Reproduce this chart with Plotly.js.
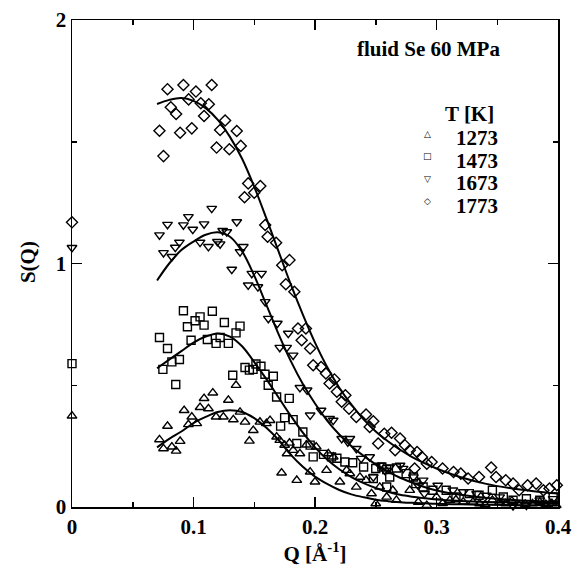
<!DOCTYPE html>
<html>
<head>
<meta charset="utf-8">
<script src="https://cdn.plot.ly/plotly-3.0.1.min.js"></script>
<style>html,body{margin:0;padding:0;background:#fff;}</style>
</head>
<body>
<div id="chart" style="width:573px;height:566px;"></div>
<script>
// ---- data ----
const qAxis0 = [0, 0, 0, 0];
const sAxis0 = [0.374, 0.589, 1.065, 1.169];

// T = 1273 K (up triangles)
const q1273 = [0.072,0.0753,0.0822,0.0857,0.0786,0.089,0.0923,0.0986,0.0958,0.1027,0.1054,0.1087,0.1123,0.1159,0.1186,0.1246,0.1287,0.1328,0.135,0.1383,0.1424,0.146,0.1492,0.1547,0.160,0.163,0.1684,0.171,0.1725,0.175,0.177,0.179,0.182,0.185,0.1876,0.193,0.196,0.200,0.201,0.2095,0.211,0.215,0.2205,0.226,0.2287,0.234,0.237,0.242,0.2465,0.25,0.2533,0.259,0.264,0.267,0.278,0.285,0.292,0.30,0.305,0.311,0.316,0.322,0.33,0.3355,0.34,0.346,0.352,0.357,0.362,0.368,0.373,0.379,0.385,0.390,0.395,0.3985];
const s1273 = [0.277,0.240,0.247,0.230,0.332,0.270,0.397,0.370,0.339,0.343,0.409,0.446,0.404,0.469,0.370,0.370,0.439,0.359,0.500,0.390,0.349,0.271,0.315,0.349,0.343,0.356,0.288,0.274,0.140,0.254,0.219,0.263,0.233,0.110,0.219,0.255,0.144,0.103,0.247,0.151,0.219,0.206,0.103,0.151,0.137,0.082,0.123,0.110,0.055,0.014,0.082,0.041,0.069,0.028,0.069,0.020,0.007,0.041,0.015,0.028,0.030,0.021,0.020,0.014,0.010,0.028,0.020,0.014,0.025,0.007,0.012,0.014,0.020,0.011,0.015,0.007];

// T = 1473 K (squares)
const q1473 = [0.0917,0.1054,0.1013,0.095,0.1087,0.1155,0.1254,0.1383,0.135,0.072,0.0786,0.098,0.1114,0.1186,0.1219,0.1287,0.0822,0.0884,0.0748,0.0854,0.1323,0.1424,0.146,0.1514,0.1555,0.149,0.1588,0.1657,0.1615,0.1684,0.1788,0.175,0.182,0.1717,0.185,0.190,0.196,0.1985,0.207,0.2136,0.218,0.2246,0.231,0.240,0.248,0.25,0.255,0.259,0.2615,0.267,0.259,0.275,0.281,0.283,0.289,0.297,0.308,0.316,0.327,0.335,0.346,0.355,0.363,0.374,0.385,0.396];
const s1473 = [0.806,0.781,0.765,0.740,0.747,0.804,0.758,0.743,0.715,0.696,0.651,0.685,0.688,0.672,0.696,0.672,0.596,0.606,0.565,0.503,0.541,0.573,0.562,0.587,0.578,0.565,0.545,0.537,0.500,0.452,0.446,0.367,0.359,0.332,0.261,0.308,0.254,0.206,0.216,0.206,0.200,0.185,0.182,0.164,0.117,0.158,0.164,0.154,0.123,0.160,0.082,0.137,0.123,0.096,0.082,0.069,0.069,0.041,0.055,0.048,0.069,0.041,0.028,0.034,0.028,0.041];

// T = 1673 K (down triangles)
const q1673 = [0.115,0.0958,0.0786,0.0917,0.1087,0.0994,0.072,0.1356,0.1274,0.124,0.0884,0.085,0.0753,0.0822,0.1054,0.1123,0.1219,0.1197,0.141,0.1383,0.1315,0.148,0.156,0.145,0.153,0.159,0.1616,0.169,0.178,0.171,0.1767,0.182,0.1876,0.1935,0.196,0.205,0.212,0.215,0.222,0.2287,0.227,0.234,0.238,0.245,0.248,0.2533,0.2575,0.2615,0.270,0.2725,0.281,0.285,0.289,0.290,0.301,0.3135,0.322,0.333,0.341,0.352,0.363,0.374,0.385,0.396];
const s1673 = [1.226,1.192,1.160,1.158,1.162,1.140,1.117,1.171,1.130,1.135,1.087,1.066,1.044,1.028,1.087,1.069,1.080,1.090,1.069,1.048,0.976,0.959,0.959,0.911,0.904,0.843,0.774,0.754,0.713,0.655,0.655,0.623,0.490,0.480,0.377,0.397,0.363,0.356,0.281,0.281,0.267,0.240,0.199,0.206,0.123,0.171,0.151,0.164,0.171,0.158,0.123,0.089,0.110,0.055,0.089,0.069,0.062,0.055,0.048,0.041,0.005,0.007,0.028,0.034];

// T = 1773 K (diamonds)
const q1773 = [0.0786,0.0917,0.102,0.115,0.096,0.0813,0.0857,0.106,0.1126,0.1087,0.072,0.089,0.0986,0.0753,0.126,0.1219,0.1356,0.119,0.1295,0.1389,0.145,0.155,0.142,0.150,0.159,0.161,0.168,0.179,0.173,0.176,0.183,0.186,0.1925,0.189,0.196,0.1985,0.205,0.209,0.212,0.216,0.218,0.225,0.222,0.228,0.234,0.242,0.248,0.245,0.252,0.257,0.263,0.266,0.270,0.274,0.278,0.284,0.282,0.288,0.292,0.296,0.305,0.314,0.320,0.326,0.335,0.345,0.349,0.357,0.363,0.368,0.375,0.382,0.388,0.393,0.399];
const s1773 = [1.716,1.733,1.706,1.733,1.674,1.642,1.614,1.658,1.654,1.606,1.545,1.537,1.555,1.441,1.587,1.548,1.544,1.476,1.469,1.483,1.329,1.318,1.272,1.291,1.158,1.110,1.085,1.014,0.993,0.915,0.884,0.733,0.733,0.685,0.651,0.582,0.575,0.548,0.507,0.524,0.473,0.459,0.432,0.404,0.370,0.380,0.352,0.329,0.261,0.301,0.305,0.233,0.281,0.254,0.233,0.226,0.158,0.205,0.178,0.185,0.158,0.144,0.137,0.117,0.123,0.162,0.123,0.110,0.096,0.069,0.089,0.096,0.069,0.076,0.089];

// fitted curves
const qFit = [0.07,0.08,0.09,0.10,0.11,0.12,0.13,0.14,0.15,0.16,0.17,0.18,0.19,0.20,0.21,0.22,0.23,0.24,0.25,0.26,0.27,0.28,0.29,0.30,0.32,0.34,0.36,0.38,0.40];
const fit1273 = [0.245,0.28,0.31,0.345,0.37,0.39,0.397,0.39,0.365,0.325,0.275,0.215,0.165,0.125,0.095,0.07,0.052,0.04,0.03,0.024,0.02,0.017,0.015,0.013,0.011,0.009,0.008,0.0075,0.007];
const fit1473 = [0.57,0.605,0.64,0.675,0.70,0.713,0.70,0.66,0.595,0.525,0.45,0.375,0.305,0.245,0.195,0.155,0.123,0.098,0.078,0.062,0.05,0.042,0.036,0.031,0.025,0.021,0.019,0.017,0.015];
const fit1673 = [0.93,1.00,1.055,1.09,1.118,1.128,1.11,1.05,0.95,0.83,0.71,0.60,0.505,0.425,0.355,0.298,0.25,0.21,0.175,0.145,0.12,0.10,0.082,0.068,0.05,0.038,0.03,0.025,0.021];
const fit1773 = [1.655,1.672,1.68,1.668,1.638,1.59,1.52,1.43,1.315,1.185,1.05,0.915,0.79,0.675,0.575,0.49,0.42,0.36,0.31,0.27,0.235,0.205,0.18,0.158,0.122,0.096,0.078,0.065,0.055];

const legendTemps = ['1273','1473','1673','1773'];
const legendGlyphs = ['\u25B3','\u25A1','\u25BD','\u25C7'];

// ---- build ----
const serif = 'Liberation Serif, Times New Roman, serif';
const mk = (sym, size) => ({symbol: sym, size: size, color: 'black', line: {color: 'black', width: 1.4}});

const traces = [];
function addSeries(q, s, q0, s0, sym, size) {
  traces.push({x: q.concat([q0]), y: s.concat([s0]), type: 'scatter', mode: 'markers',
    marker: mk(sym, size), cliponaxis: false, showlegend: false, hoverinfo: 'skip'});
}
addSeries(q1273, s1273, qAxis0[0], sAxis0[0], 'triangle-up-open', 8.5);
addSeries(q1473, s1473, qAxis0[1], sAxis0[1], 'square-open', 8);
addSeries(q1673, s1673, qAxis0[2], sAxis0[2], 'triangle-down-open', 8.5);
addSeries(q1773, s1773, qAxis0[3], sAxis0[3], 'diamond-open', 8.5);

[fit1273, fit1473, fit1673, fit1773].forEach(f => {
  traces.push({x: qFit, y: f, type: 'scatter', mode: 'lines',
    line: {color: 'black', width: 2, shape: 'spline', smoothing: 1}, showlegend: false, hoverinfo: 'skip'});
});

const fontBold = (sz) => ({family: serif, size: sz, color: 'black', weight: 'bold'});

const annotations = [
  {text: 'fluid Se 60 MPa', xref: 'paper', yref: 'paper', x: 0.7335, y: 0.94, xanchor: 'center', yanchor: 'middle', showarrow: false, font: fontBold(21)},
  {text: 'T [K]', xref: 'paper', yref: 'paper', x: 0.817, y: 0.806, xanchor: 'center', yanchor: 'middle', showarrow: false, font: fontBold(21)},
  {text: 'S(Q)', xref: 'paper', yref: 'paper', x: -0.0905, y: 0.503, xanchor: 'center', yanchor: 'middle', textangle: -90, showarrow: false, font: fontBold(21)}
];
const rowY = [0.7587, 0.7125, 0.6653, 0.6201];
legendTemps.forEach((t, i) => {
  annotations.push({text: t, xref: 'paper', yref: 'paper', x: 0.786, y: rowY[i], xanchor: 'left', yanchor: 'middle', height: 21, showarrow: false, font: fontBold(21)});
  annotations.push({text: legendGlyphs[i], xref: 'paper', yref: 'paper', x: 0.7305, y: rowY[i] + 0.008, xanchor: 'center', yanchor: 'middle', showarrow: false, font: {family: 'DejaVu Sans', size: 9, color: 'black'}});
});

const axisCommon = {
  showgrid: false, zeroline: false, showline: true, linecolor: 'black', linewidth: 1.5,
  mirror: 'ticks', ticks: 'inside', ticklen: 10, tickwidth: 1.5, tickcolor: 'black',
  tickfont: fontBold(21)
};

const layout = {
  width: 573, height: 566,
  margin: {l: 72, r: 15, t: 20, b: 59, pad: 0},
  paper_bgcolor: 'white', plot_bgcolor: 'white',
  showlegend: false,
  xaxis: Object.assign({}, axisCommon, {
    range: [0, 0.4], tick0: 0, dtick: 0.1,
    minor: {dtick: 0.05, ticks: 'inside', ticklen: 5, tickwidth: 1.5, tickcolor: 'black', showgrid: false},
    title: {text: 'Q [Å<sup>-1</sup>]', font: fontBold(21)}
  }),
  yaxis: Object.assign({}, axisCommon, {
    range: [0, 2], tick0: 0, dtick: 1,
    minor: {dtick: 0.5, ticks: 'inside', ticklen: 5, tickwidth: 1.5, tickcolor: 'black', showgrid: false}
  }),
  annotations: annotations
};

Plotly.newPlot('chart', traces, layout, {staticPlot: true, displayModeBar: false});
</script>
</body>
</html>
